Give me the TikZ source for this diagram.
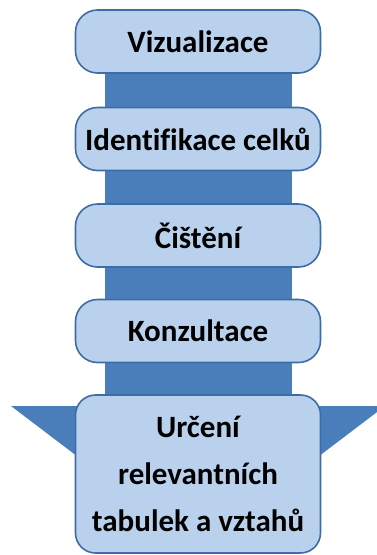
\documentclass[tikz,border=0pt]{standalone}
\usepackage{fontspec}
\setmainfont[Ligatures=NoCommon]{Carlito}
\definecolor{barblue}{HTML}{4A7EBB}
\definecolor{boxfill}{HTML}{B9D1EC}
\definecolor{boxline}{HTML}{3C6DA8}
\begin{document}
\begin{tikzpicture}[x=1pt,y=-1pt,
  stage/.style={draw=boxline, line width=1.6pt, fill=boxfill, rounded corners=22pt,
    minimum width=245pt, minimum height=63pt, inner sep=0pt, align=center,
    font=\bfseries\fontsize{31}{47}\selectfont, text=black}]
\useasboundingbox (0,0) rectangle (376,555);
\fill[barblue] (104.5,40) rectangle (292,420);
\fill[barblue] (11,406) -- (385,406) -- (198,548) -- cycle;
\node[stage] (v) at (198,41.5) {Vizualizace};
\node[stage] (i) at (198,139) {Identifikace celků};
\node[stage] (c) at (198,235.5) {Čištění};
\node[stage] (k) at (198,331) {Konzultace};
\node[stage, minimum height=158pt, rounded corners=20pt] (u) at (198,474) {Určení\\relevantních\\tabulek a vztahů};
\end{tikzpicture}
\end{document}
